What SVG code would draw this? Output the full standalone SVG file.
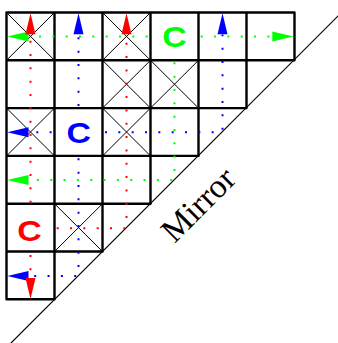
<svg xmlns="http://www.w3.org/2000/svg" width="338" height="343" viewBox="0 0 338 343">
<style>
.grid{fill:none;stroke:#000;stroke-width:2.4;stroke-linecap:round;stroke-linejoin:round}
.cross{fill:none;stroke:#000;stroke-width:1}
.mirror{fill:none;stroke:#000;stroke-width:1.2}
.dot{fill:none;stroke-width:2;stroke-dasharray:2 11.333;stroke-linecap:butt}
.src{font-family:"Liberation Sans",Arial,sans-serif;font-weight:bold;font-size:30px;text-anchor:middle}
.r{stroke:#ff0000}.g{stroke:#00ff00}.b{stroke:#0000ff}
.fr{fill:#ff0000}.fg{fill:#00ff00}.fb{fill:#0000ff}
</style>
<rect width="338" height="343" fill="#fff"/>
<g id="mirror">
<line class="mirror" x1="338.5" y1="15.5" x2="10.5" y2="343.5"/>
<text x="206" y="212.5" transform="rotate(-45 206 212.5)" font-family="'Liberation Serif','Times New Roman',serif" font-size="33.5" text-anchor="middle">Mirror</text>
</g>
<g id="grid">
<path class="grid" d="M6.5,12.5H294.5M6.5,60.3H294.5M6.5,108.1H246.5M6.5,155.9H198.5M6.5,203.7H150.5M6.5,251.5H102.5M6.5,299.3H54.5M6.5,12.5V299.3M54.5,12.5V299.3M102.5,12.5V251.5M150.5,12.5V203.7M198.5,12.5V155.9M246.5,12.5V108.1M294.5,12.5V60.3"/>
</g>
<g id="crosses">
<path class="cross" d="M6.5,12.5L54.5,60.3M54.5,12.5L6.5,60.3M102.5,12.5L150.5,60.3M150.5,12.5L102.5,60.3M102.5,60.3L150.5,108.1M150.5,60.3L102.5,108.1M150.5,60.3L198.5,108.1M198.5,60.3L150.5,108.1M6.5,108.1L54.5,155.9M54.5,108.1L6.5,155.9M102.5,108.1L150.5,155.9M150.5,108.1L102.5,155.9M54.5,203.7L102.5,251.5M102.5,203.7L54.5,251.5"/>
</g>
<g id="connectors">
<path class="dot g" d="M39,36.4H148"/>
<path class="dot g" d="M200.7,36.4H271"/>
<path class="dot g" d="M174.5,62.3V180H36.5"/>
<path class="dot b" d="M78.5,37.3V107"/>
<path class="dot b" d="M78.5,158.3V276H34"/>
<path class="dot b" d="M36.3,132.2H52"/>
<path class="dot b" d="M105,132.2H222.5V34.5"/>
<path class="dot r" d="M30.5,40.7V203"/>
<path class="dot r" d="M30.5,255V271"/>
<path class="dot r" d="M56.7,228.3H126.5V41"/>
</g>
<g id="source-green"><text class="src fg" transform="translate(174.5 47.3) scale(1.13 1)">C</text></g>
<g id="source-blue"><text class="src fb" transform="translate(78.8 143.3) scale(1.13 1)">C</text></g>
<g id="source-red"><text class="src fr" transform="translate(29.5 240.5) scale(1.13 1)">C</text></g>
<g id="arrows">
<polygon class="fg" points="7.3,36.4 28.5,31.4 28.5,41.4"/>
<polygon class="fg" points="293.5,36.4 272.3,31.4 272.3,41.4"/>
<polygon class="fg" points="7.3,180 28.5,175 28.5,185"/>
<polygon class="fb" points="78.5,13.3 73.5,34.3 83.5,34.3"/>
<polygon class="fb" points="222.5,13.3 217.5,34.3 227.5,34.3"/>
<polygon class="fb" points="7.3,132.2 28.5,127.2 28.5,137.2"/>
<polygon class="fb" points="7.3,276 28.5,271 28.5,281"/>
<polygon class="fr" points="30.5,13.3 25.5,34.3 35.5,34.3"/>
<polygon class="fr" points="126.5,13.3 121.5,34.3 131.5,34.3"/>
<polygon class="fr" points="30.5,299 25.5,278 35.5,278"/>
</g>
</svg>
